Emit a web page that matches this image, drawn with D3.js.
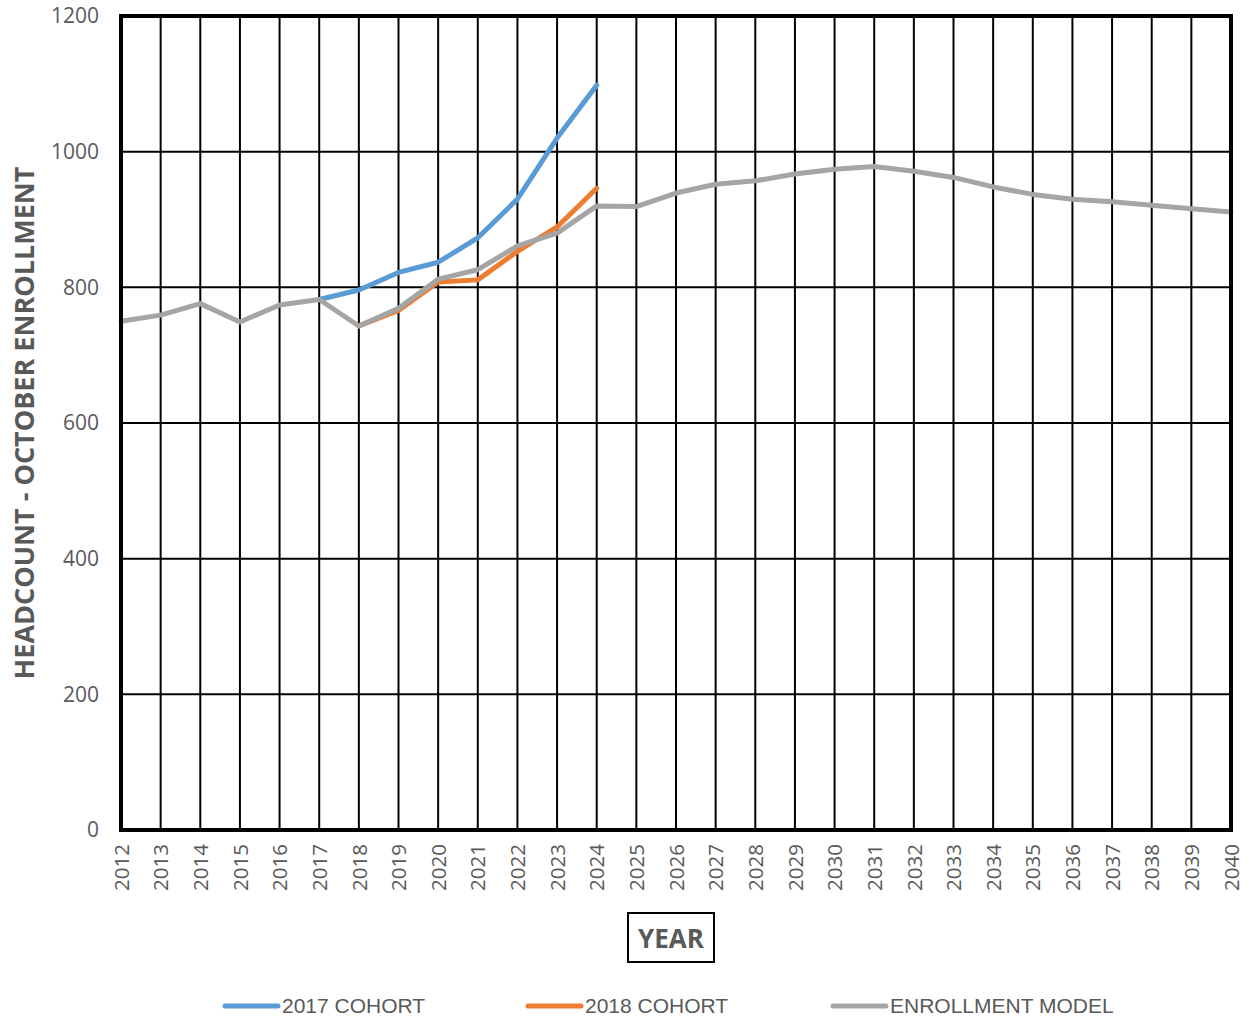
<!DOCTYPE html>
<html><head><meta charset="utf-8">
<script src="https://cdn.jsdelivr.net/npm/d3@7"></script>
<style>body{margin:0;background:#fff;} svg{display:block;}</style>
</head><body>
<script>
const years = d3.range(2012, 2041);
const yTicks = [0, 200, 400, 600, 800, 1000, 1200];
const cohort2017Years = [2017, 2018, 2019, 2020, 2021, 2022, 2023, 2024];
const cohort2017 = [782, 796, 822, 837, 873, 930, 1020, 1098];
const cohort2018Years = [2018, 2019, 2020, 2021, 2022, 2023, 2024];
const cohort2018 = [743, 766, 808, 811, 853, 889, 946];
const modelYears = years;
const model = [750, 759, 776, 749, 774, 782, 743, 769, 812, 826, 861, 880, 920, 919, 939, 952, 957, 967, 974, 978, 971, 962, 948, 937, 930, 926, 921, 916, 911];
const seriesNames = ["2017 COHORT", "2018 COHORT", "ENROLLMENT MODEL"];
const seriesColors = ["#5b9bd5", "#ed7d31", "#a5a5a5"];

const W = 1253, H = 1024;
const L = 121, R = 1231, T = 16, B = 830;
const svg = d3.select("body").append("svg").attr("width", W).attr("height", H);
const x = d3.scaleLinear().domain([2012, 2040]).range([L, R]);
const y = d3.scaleLinear().domain([0, 1200]).range([B, T]);

// grid
const g = svg.append("g");
g.selectAll("line.v").data(years).enter().append("line")
  .attr("x1", d => x(d)).attr("x2", d => x(d)).attr("y1", T).attr("y2", B)
  .attr("stroke", "#000").attr("stroke-width", 2);
g.selectAll("line.h").data(yTicks).enter().append("line")
  .attr("x1", L).attr("x2", R).attr("y1", d => y(d)).attr("y2", d => y(d))
  .attr("stroke", "#000").attr("stroke-width", 2);

// y axis labels
const yAxis = d3.axisLeft(y).tickValues(yTicks).tickSize(0).tickPadding(22).tickFormat(d3.format("d"));
const ya = svg.append("g").attr("transform", `translate(${L},0)`).call(yAxis);
ya.select(".domain").remove();
ya.selectAll("text").attr("font-family", "Open Sans, sans-serif").attr("font-size", 21).attr("fill", "#595959");

// x axis labels
const xAxis = d3.axisBottom(x).tickValues(years).tickSize(0).tickFormat(d3.format("d"));
const xa = svg.append("g").attr("transform", `translate(0,${B})`).call(xAxis);
xa.select(".domain").remove();
xa.selectAll("text").attr("font-family", "Open Sans, sans-serif").attr("font-size", 20.5).attr("fill", "#595959")
  .attr("transform", "rotate(-90)").attr("text-anchor", "end").attr("x", -14).attr("y", 0).attr("dy", "0.35em");

// lines
const line = d3.line().x(d => x(d[0])).y(d => y(d[1]));
const data = [
  d3.zip(cohort2017Years, cohort2017),
  d3.zip(cohort2018Years, cohort2018),
  d3.zip(modelYears, model)
];
svg.selectAll("path.s").data(data).enter().append("path")
  .attr("d", line).attr("fill", "none")
  .attr("stroke", (d, i) => seriesColors[i]).attr("stroke-width", 5)
  .attr("stroke-linejoin", "round").attr("stroke-linecap", "round");

// frame
svg.append("rect").attr("x", L).attr("y", T).attr("width", R - L).attr("height", B - T)
  .attr("fill", "none").attr("stroke", "#000").attr("stroke-width", 4);

// y title
svg.append("text").attr("transform", `translate(34,${(T + B) / 2}) rotate(-90)`)
  .attr("text-anchor", "middle").attr("font-family", "Open Sans, sans-serif").attr("font-weight", "bold")
  .attr("font-size", 27).attr("fill", "#595959").text("HEADCOUNT - OCTOBER ENROLLMENT");

// x title with box
svg.append("rect").attr("x", 628).attr("y", 913).attr("width", 86).attr("height", 49)
  .attr("fill", "#fff").attr("stroke", "#000").attr("stroke-width", 2);
svg.append("text").attr("x", 671).attr("y", 939).attr("dy", "0.35em").attr("text-anchor", "middle")
  .attr("font-family", "Open Sans, sans-serif").attr("font-weight", "bold").attr("font-size", 26)
  .attr("fill", "#595959").text("YEAR");

// legend
const legX = [225, 528, 833];
const lg = svg.selectAll("g.leg").data(seriesNames).enter().append("g")
  .attr("transform", (d, i) => `translate(${legX[i]},1006)`);
lg.append("line").attr("x1", 0).attr("x2", 53).attr("y1", 0).attr("y2", 0)
  .attr("stroke", (d, i) => seriesColors[i]).attr("stroke-width", 5).attr("stroke-linecap", "round");
lg.append("text").attr("x", 57).attr("y", 0).attr("dy", "0.35em")
  .attr("font-family", "Liberation Sans Narrow, sans-serif").attr("font-size", 21).attr("fill", "#595959")
  .text(d => d);
</script>
</body></html>
